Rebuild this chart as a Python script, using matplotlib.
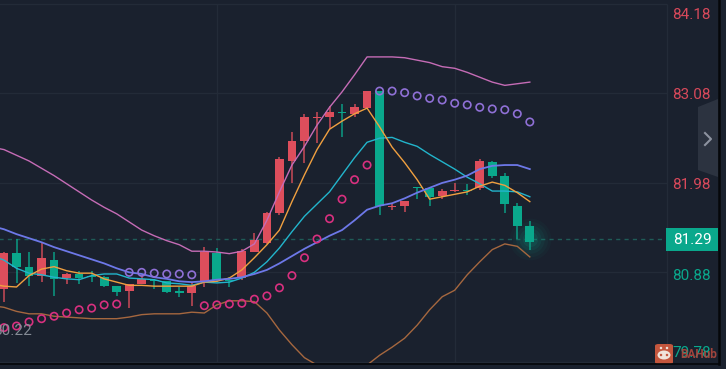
import matplotlib
matplotlib.use("Agg")
import matplotlib.pyplot as plt
from matplotlib.lines import Line2D
from matplotlib.patches import Polygon, FancyBboxPatch, Rectangle, Ellipse

plt.rcParams['font.family'] = ['Roboto', 'DejaVu Sans']

opens = [80.68, 81.12, 80.95, 80.84, 81.03, 80.81, 80.86, 80.84, 80.82, 80.71, 80.65, 80.74, 80.79, 80.77, 80.64, 80.63,
         80.76, 81.12, 80.79, 80.81, 81.13, 81.24, 81.61, 82.25, 82.50, 82.78, 82.79, 82.85, 82.83, 82.90, 83.11, 81.68,
         81.70, 81.93, 81.92, 81.82, 81.88, 81.89, 81.92, 82.24, 82.06, 81.70, 81.45]
highs = [81.13, 81.29, 81.13, 81.24, 81.13, 80.87, 80.90, 80.90, 80.84, 80.71, 80.74, 80.85, 80.80, 80.77, 80.70, 80.75,
         81.19, 81.18, 80.82, 81.17, 81.36, 81.62, 82.30, 82.61, 82.83, 82.85, 82.93, 82.95, 82.95, 83.11, 83.11, 81.72,
         81.76, 81.93, 81.92, 81.91, 81.98, 81.97, 82.27, 82.25, 82.10, 81.73, 81.51]
lows = [80.52, 80.75, 80.71, 80.76, 80.59, 80.74, 80.74, 80.76, 80.70, 80.59, 80.44, 80.74, 80.68, 80.63, 80.58, 80.47,
        80.70, 80.76, 80.70, 80.79, 81.13, 81.23, 81.59, 81.98, 82.23, 82.47, 82.64, 82.55, 82.79, 82.90, 81.59, 81.65,
        81.62, 81.78, 81.70, 81.78, 81.87, 81.83, 81.89, 82.04, 81.61, 81.29, 81.16]
closes = [81.12, 80.95, 80.84, 81.06, 80.80, 80.86, 80.81, 80.82, 80.71, 80.64, 80.74, 80.80, 80.77, 80.64, 80.63, 80.71,
          81.13, 80.79, 80.77, 81.14, 81.28, 81.61, 82.27, 82.50, 82.79, 82.79, 82.85, 82.84, 82.91, 83.11, 81.70, 81.70,
          81.76, 81.92, 81.81, 81.88, 81.89, 81.88, 82.25, 82.06, 81.72, 81.45, 81.25]

# line series start one bar earlier, just off the left edge
boll_upper = [82.42, 82.39, 82.32, 82.25, 82.16, 82.07, 81.97, 81.87, 81.77, 81.68, 81.60, 81.50, 81.40, 81.33, 81.27, 81.22,
              81.14, 81.14, 81.13, 81.11, 81.14, 81.23, 81.52, 81.87, 82.20, 82.43, 82.69, 82.91, 83.10, 83.31, 83.53,
              83.53, 83.53, 83.52, 83.49, 83.46, 83.41, 83.39, 83.34, 83.28, 83.22, 83.18, 83.20, 83.22]
boll_mid = [81.45, 81.41, 81.35, 81.30, 81.25, 81.19, 81.14, 81.09, 81.04, 80.99, 80.93, 80.88, 80.86, 80.82, 80.80, 80.77,
            80.76, 80.77, 80.79, 80.80, 80.82, 80.86, 80.91, 80.99, 81.08, 81.17, 81.25, 81.33, 81.40, 81.52, 81.65,
            81.70, 81.73, 81.79, 81.86, 81.92, 81.98, 82.02, 82.07, 82.15, 82.19, 82.20, 82.20, 82.15]
boll_lower = [80.47, 80.45, 80.40, 80.37, 80.37, 80.34, 80.33, 80.32, 80.31, 80.31, 80.31, 80.33, 80.36, 80.37, 80.37, 80.37,
              80.39, 80.38, 80.48, 80.53, 80.53, 80.52, 80.38, 80.17, 79.99, 79.83, 79.74, 79.65, 79.62, 79.64, 79.74,
              79.86, 79.96, 80.07, 80.23, 80.42, 80.58, 80.66, 80.85, 81.01, 81.16, 81.23, 81.20, 81.07]
ma_fast = [80.74, 80.71, 80.70, 80.84, 80.92, 80.95, 80.90, 80.87, 80.87, 80.80, 80.76, 80.72, 80.72, 80.71, 80.71, 80.71,
           80.71, 80.76, 80.77, 80.81, 80.91, 81.06, 81.22, 81.40, 81.75, 82.08, 82.39, 82.64, 82.74, 82.83, 82.90,
           82.67, 82.42, 82.23, 82.02, 81.78, 81.81, 81.84, 81.87, 81.94, 81.99, 81.95, 81.86, 81.75]
ma_slow = [81.09, 81.03, 80.93, 80.87, 80.85, 80.82, 80.80, 80.79, 80.84, 80.86, 80.86, 80.81, 80.80, 80.79, 80.75, 80.74,
           80.72, 80.76, 80.75, 80.76, 80.81, 80.88, 81.01, 81.18, 81.38, 81.57, 81.72, 81.87, 82.08, 82.29, 82.48,
           82.53, 82.54, 82.48, 82.43, 82.33, 82.24, 82.15, 82.05, 81.97, 81.88, 81.88, 81.87, 81.81]
sar = [80.20, 80.22, 80.27, 80.31, 80.34, 80.38, 80.42, 80.44, 80.48, 80.49, 80.88, 80.88, 80.87, 80.86, 80.86, 80.85,
       80.47, 80.48, 80.49, 80.50, 80.55, 80.59, 80.69, 80.84, 81.06, 81.29, 81.54, 81.78, 82.02, 82.20, 83.11, 83.11,
       83.09, 83.05, 83.02, 83.00, 82.96, 82.94, 82.91, 82.89, 82.88, 82.83, 82.73]

price_ticks = [84.18, 83.08, 81.98, 80.88, 79.78]
tick_colors = ['#d8495b', '#d8495b', '#d8495b', '#0aa88c', '#0aa88c']
tick_offsets = [11, 2, 2, 4, -9]  # px below the grid line
last_price = 81.29

bg = '#1a212e'
red = '#dd4e5c'
green = '#0aa88c'
grid = '#232b38'

W, H = 726, 369
fig = plt.figure(figsize=(W / 100, H / 100), dpi=100, facecolor=bg)
ax = fig.add_axes([0, (H - 363) / H, 718 / W, 363 / H], facecolor=bg)
ax.set_xlim(-0.319, 57.03)
ax.set_ylim(79.765, 84.23)
ax.set_xticks([])
ax.set_yticks([])
for s in ax.spines.values():
    s.set_visible(False)

axis_x = 52.93

# grid and the price axis line
ax.hlines(price_ticks, -1, axis_x, color=grid, lw=1, zorder=1)
ax.vlines([17, 36, axis_x], 79.7, 84.18, color=grid, lw=1, zorder=1)
ax.hlines(last_price, -1, axis_x, color='#1f5c58', lw=1, linestyles=(0, (3, 3)), zorder=2)

# glow behind the last candle
for size, alpha in [(900, 0.04), (650, 0.05), (420, 0.07), (250, 0.09), (120, 0.12)]:
    ax.scatter(42, last_price, s=size, color=green, alpha=alpha, lw=0, zorder=2)

for i in range(len(opens)):
    c = red if closes[i] >= opens[i] else green
    ax.vlines(i, lows[i], highs[i], color=c, lw=1.1, zorder=3, alpha=0.9)
    bottom = min(opens[i], closes[i])
    top = max(opens[i], closes[i])
    ax.bar(i, max(top - bottom, 0.015), 0.7, bottom=bottom, color=c, lw=0, zorder=3)

xs = range(len(opens))
line_xs = range(-1, len(opens))
ax.plot(line_xs, boll_upper, color='#c56cb6', lw=1.0, zorder=4)
ax.plot(line_xs, boll_lower, color='#a5673f', lw=1.0, zorder=4)
ax.plot(line_xs, ma_slow, color='#22b5cc', lw=1.0, zorder=4)
ax.plot(line_xs, ma_fast, color='#f0a040', lw=1.0, zorder=5)
ax.plot(line_xs, boll_mid, color='#6d78e8', lw=1.3, zorder=5)

# sar dots, purple when above price and pink when below
sar_colors = ['#8f70d6' if sar[i] > closes[i] else '#d8307f' for i in xs]
ax.scatter(xs, sar, s=28, facecolors='none', edgecolors=sar_colors, linewidths=1.2, zorder=6)

for p, c, off in zip(price_ticks, tick_colors, tick_offsets):
    ax.annotate(f"{p:.2f}", (axis_x, p), xytext=(4, -off * 0.72), textcoords='offset points',
                color=c, fontsize=11, va='center', ha='left', zorder=7, annotation_clip=False)

# current price tag
px = fig.transFigure
fig.add_artist(Rectangle((666 / W, (H - 251) / H), 52 / W, 23 / H, transform=px, color=green, lw=0))
fig.text(692 / W, (H - 240) / H, f"{last_price:.2f}", color='white', fontsize=11, ha='center', va='center')

# left-over label at left edge
fig.text(32 / W, (H - 331) / H, "80.22", color='#8f96a0', fontsize=11, ha='right', va='center', alpha=0.9)

# side handle
handle = [(718, 99), (698, 107), (698, 170), (718, 177)]
fig.add_artist(Polygon([(x / W, (H - y) / H) for x, y in handle], transform=px, color='#2c3340', lw=0))
chev = [(705, 133), (711, 139), (705, 145)]
fig.add_artist(Line2D([x / W for x, y in chev], [(H - y) / H for x, y in chev], color='#8d93a0', lw=1.5))

# watermark
fig.add_artist(FancyBboxPatch((655 / W, (H - 364) / H), 18 / W, 20 / H, boxstyle="round,pad=0,rounding_size=0.005",
                              transform=px, color='#c4563d', lw=0))
fig.add_artist(Ellipse((664 / W, (H - 355) / H), 13 / W, 9 / H, transform=px, color='#f0e4dc', lw=0))
for ex in [661, 667]:
    fig.add_artist(Ellipse((ex / W, (H - 355) / H), 2.5 / W, 2.5 / H, transform=px, color='#c4563d', lw=0))
    fig.add_artist(Ellipse((ex / W, (H - 348) / H), 2.5 / W, 2.5 / H, transform=px, color='#f0e4dc', lw=0))
fig.text(680 / W, (H - 354) / H, "BAHub", color='#b0483e', fontsize=8.5, fontweight='bold', ha='left', va='center',
         alpha=0.9)

# black frame lines
fig.add_artist(Line2D([0, 719 / W], [(H - 363.5) / H] * 2, color='#05070a', lw=1.2))
fig.add_artist(Line2D([719 / W] * 2, [(H - 364) / H, 1], color='#05070a', lw=1.8))

fig.savefig("out.png", dpi=100, facecolor=bg)
